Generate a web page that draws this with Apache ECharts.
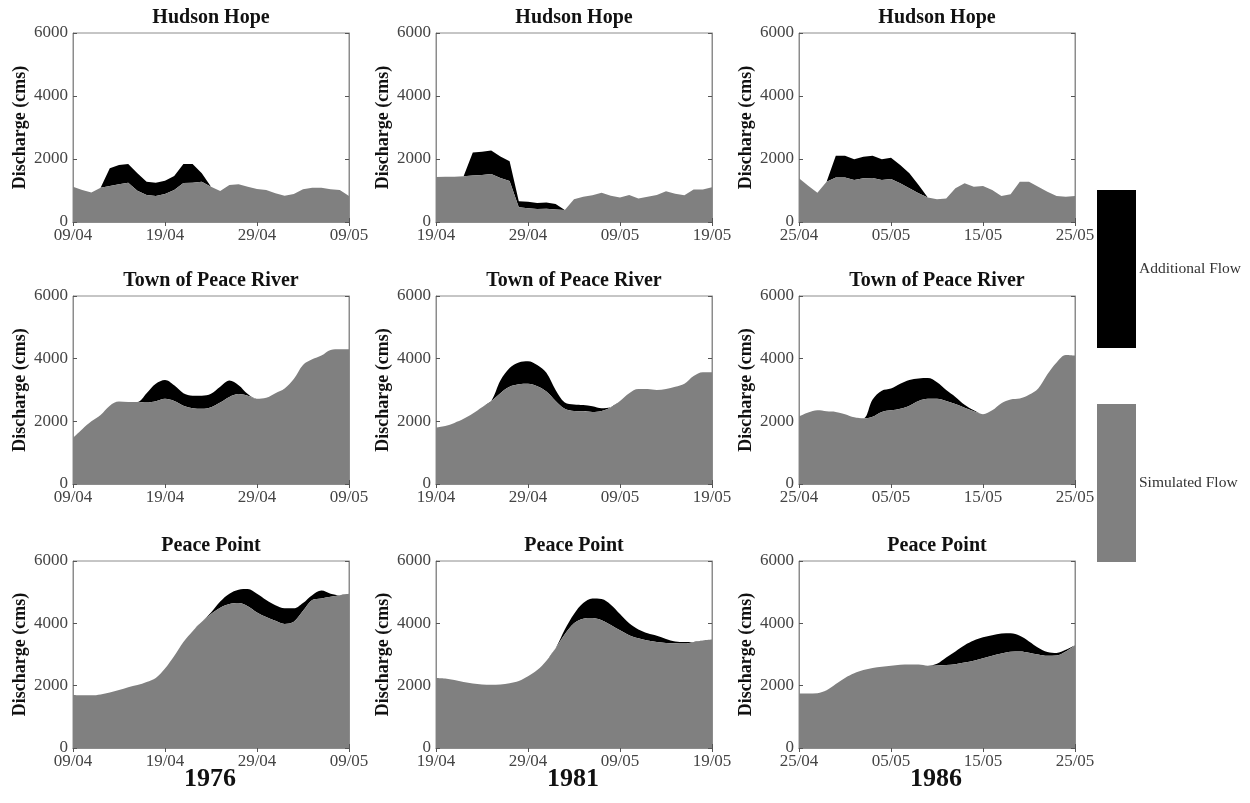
<!DOCTYPE html>
<html>
<head>
<meta charset="utf-8">
<script src="https://cdn.jsdelivr.net/npm/echarts@6/dist/echarts.min.js"></script>
<style>
  html, body { margin: 0; padding: 0; background: #fff; }
  #main { width: 1250px; height: 803px; }
</style>
</head>
<body>
<div id="main"></div>
<script>
// station names per row, years per column
const stations = ['Hudson Hope', 'Town of Peace River', 'Peace Point']
const years = ['1976', '1981', '1986']
const tickLabels = [
  ['09/04', '19/04', '29/04', '09/05'],
  ['19/04', '29/04', '09/05', '19/05'],
  ['25/04', '05/05', '15/05', '25/05']
]

// daily discharge (cms), 31 days per panel
const simHH76 = [1120,1015,940,1090,1140,1195,1250,995,857,825,890,1015,1240,1250,1280,1120,985,1175,1195,1120,1050,1015,910,835,890,1037,1090,1090,1037,1015,825]
const addHH76 = [0,0,0,0,565,615,590,550,423,425,420,445,600,590,270,0,0,0,0,0,0,0,0,0,0,0,0,0,0,0,0]
const simHH81 = [1430,1440,1440,1450,1480,1490,1520,1400,1300,470,440,410,420,400,380,720,800,850,930,830,780,860,750,800,860,980,900,850,1030,1030,1100]
const addHH81 = [0,0,0,0,730,740,750,680,630,190,200,190,200,170,0,0,0,0,0,0,0,0,0,0,0,0,0,0,0,0,0]
const simHH86 = [1390,1150,930,1280,1410,1410,1330,1390,1400,1330,1365,1230,1070,910,780,720,750,1070,1230,1120,1140,1015,825,880,1280,1280,1120,960,825,805,825]
const addHH86 = [0,0,0,0,695,695,660,685,705,660,675,580,475,265,0,0,0,0,0,0,0,0,0,0,0,0,0,0,0,0,0]

const simTPR76 = [1470,1750,2000,2200,2500,2630,2620,2620,2600,2640,2720,2650,2500,2420,2400,2450,2600,2780,2870,2820,2720,2750,2900,3050,3350,3800,3980,4100,4280,4300,4300]
const addTPR76 = [0,0,0,0,0,0,0,0,300,560,600,500,400,400,420,430,500,520,280,50,0,0,0,0,0,0,0,0,0,0,0]
const simTPR81 = [1800,1850,1950,2080,2250,2450,2650,2900,3100,3180,3200,3120,2950,2650,2400,2330,2320,2300,2330,2450,2650,2900,3030,3030,3000,3030,3100,3200,3450,3570,3570]
const addTPR81 = [0,0,0,0,0,0,0,400,600,700,720,680,600,350,200,210,200,180,90,0,0,0,0,0,0,0,0,0,0,0,0]
const simTPR86 = [2150,2280,2350,2320,2300,2230,2130,2100,2150,2300,2350,2400,2500,2650,2720,2720,2650,2550,2430,2320,2230,2350,2580,2700,2730,2850,3050,3500,3880,4120,4100]
const addTPR86 = [0,0,0,0,0,0,0,0,550,680,700,800,820,720,660,530,350,230,100,30,0,0,0,0,0,0,0,0,0,0,0]

const simPP76 = [1700,1690,1690,1720,1780,1860,1950,2020,2120,2250,2550,2950,3400,3750,4050,4300,4500,4620,4650,4550,4350,4200,4080,3980,4050,4400,4750,4800,4850,4900,4950]
const addPP76 = [0,0,0,0,0,0,0,0,0,0,0,0,0,0,0,50,200,330,430,550,600,550,500,500,430,250,150,250,100,0,0]
const simPP81 = [2250,2230,2180,2120,2070,2040,2030,2040,2080,2150,2300,2500,2800,3200,3650,4000,4150,4170,4100,3950,3780,3620,3520,3450,3400,3370,3360,3350,3400,3450,3480]
const addPP81 = [0,0,0,0,0,0,0,0,0,0,0,0,0,0,150,300,500,630,680,650,520,380,280,230,200,130,60,50,0,0,0]
const simPP86 = [1750,1750,1760,1850,2050,2250,2400,2500,2570,2610,2640,2670,2680,2680,2640,2650,2660,2690,2740,2800,2880,2960,3030,3090,3100,3060,3000,2960,2970,3100,3300]
const addPP86 = [0,0,0,0,0,0,0,0,0,0,0,0,0,0,0,50,240,410,560,650,670,660,640,590,500,360,220,120,80,50,0]

const simulated = [
  [simHH76, simHH81, simHH86],
  [simTPR76, simTPR81, simTPR86],
  [simPP76, simPP81, simPP86]
]
const additional = [
  [addHH76, addHH81, addHH86],
  [addTPR76, addTPR81, addTPR86],
  [addPP76, addPP81, addPP86]
]

const dayIdx = simHH76.map((v, i) => i)
const serif = "'Liberation Serif', 'Times New Roman', serif"
const colLeft = [73, 436, 799]
const rowTop = [33, 296, 561]
const rowHeight = [189, 188, 187]
const plotW = 276

const grids = [], xAxes = [], yAxes = [], series = [], titles = []
const onTick = (i) => i % 10 === 0

for (let r = 0; r < 3; r++) {
  for (let c = 0; c < 3; c++) {
    const g = grids.length
    grids.push({
      left: colLeft[c], top: rowTop[r], width: plotW, height: rowHeight[r],
      show: true, borderColor: '#8c8c8c', borderWidth: 1, backgroundColor: 'transparent'
    })
    const ticks = tickLabels[c]
    // bottom axis with labels
    xAxes.push({
      type: 'category', gridIndex: g, data: dayIdx, boundaryGap: false,
      axisLine: { lineStyle: { color: '#8c8c8c' } },
      axisTick: { inside: true, length: 4, interval: (i) => onTick(i), lineStyle: { color: '#555' } },
      axisLabel: {
        interval: (i) => onTick(i),
        formatter: (v, i) => ticks[i / 10],
        color: '#444', fontFamily: serif, fontSize: 17, margin: 5
      }
    })
    // mirrored top ticks
    xAxes.push({
      type: 'category', gridIndex: g, data: dayIdx, boundaryGap: false, position: 'top',
      axisLine: { lineStyle: { color: '#8c8c8c' } },
      axisTick: { inside: true, length: 4, interval: (i) => onTick(i), lineStyle: { color: '#555' } },
      axisLabel: { show: false }
    })
    yAxes.push({
      type: 'value', gridIndex: g, min: 0, max: 6000, interval: 2000,
      splitLine: { show: false },
      axisLine: { show: true, lineStyle: { color: '#8c8c8c' } },
      axisTick: { show: true, inside: true, length: 4, lineStyle: { color: '#555' } },
      axisLabel: { color: '#444', fontFamily: serif, fontSize: 17, margin: 5, formatter: (v) => String(v) },
      name: 'Discharge (cms)', nameLocation: 'middle', nameGap: 44, nameRotate: 90,
      nameTextStyle: { fontFamily: serif, fontSize: 18, fontWeight: 'bold', color: '#111' }
    })
    yAxes.push({
      type: 'value', gridIndex: g, min: 0, max: 6000, interval: 2000, position: 'right',
      splitLine: { show: false },
      axisLine: { show: true, lineStyle: { color: '#8c8c8c' } },
      axisTick: { show: true, inside: true, length: 4, lineStyle: { color: '#555' } },
      axisLabel: { show: false }
    })
    const smooth = r === 0 ? false : 0.35
    const stack = 'p' + g
    series.push({
      name: 'Simulated Flow', type: 'line', xAxisIndex: 2 * g, yAxisIndex: 2 * g,
      stack: stack, data: simulated[r][c], smooth: smooth, showSymbol: false, silent: true,
      color: '#808080', itemStyle: { color: '#808080' },
      lineStyle: { width: 0 }, areaStyle: { color: '#808080', opacity: 1 }, z: 3
    })
    series.push({
      name: 'Additional Flow', type: 'line', xAxisIndex: 2 * g, yAxisIndex: 2 * g,
      stack: stack, data: additional[r][c], smooth: smooth, showSymbol: false, silent: true,
      color: '#000000', itemStyle: { color: '#000000' },
      lineStyle: { width: 0 }, areaStyle: { color: '#000000', opacity: 1 }, z: 2
    })
    titles.push({
      text: stations[r], left: colLeft[c] + plotW / 2, top: rowTop[r] - 25,
      textAlign: 'center', padding: 0,
      textStyle: { fontFamily: serif, fontSize: 20, fontWeight: 'bold', color: '#111' }
    })
  }
}
years.forEach((y, c) => {
  titles.push({
    text: y, left: colLeft[c] + plotW / 2 - 1, top: 766, textAlign: 'center', padding: 0,
    textStyle: { fontFamily: serif, fontSize: 26, fontWeight: 'bold', color: '#111' }
  })
})

const chart = echarts.init(document.getElementById('main'))
chart.setOption({
  animation: false,
  backgroundColor: '#fff',
  title: titles,
  grid: grids,
  xAxis: xAxes,
  yAxis: yAxes,
  legend: {
    orient: 'vertical', left: 1097, top: 190,
    itemWidth: 39, itemHeight: 158, itemGap: 56, icon: 'rect',
    selectedMode: false, padding: 0,
    itemStyle: { borderWidth: 0 },
    data: ['Additional Flow', 'Simulated Flow'],
    textStyle: { fontFamily: serif, fontSize: 15.5, color: '#333', padding: [0, 0, 0, -2] }
  },
  series: series
})
</script>
</body>
</html>
